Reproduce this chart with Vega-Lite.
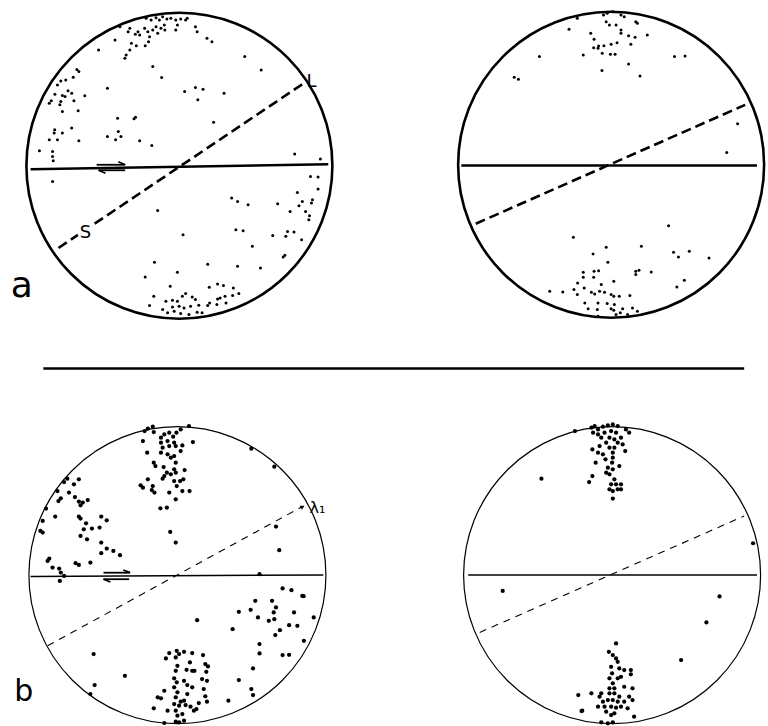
{
"$schema": "https://vega.github.io/schema/vega-lite/v6.json",
"width": 768, "height": 726,
"autosize": {"type": "fit", "contains": "padding"},
"padding": 0,
"background": "white",
"config": {"view": {"stroke": null}},
"datasets": {
"nets": [
{"row": "a", "side": "left", "cx": 182, "cy": 166},
{"row": "a", "side": "right", "cx": 620, "cy": 165},
{"row": "b", "side": "left", "cx": 180, "cy": 576},
{"row": "b", "side": "right", "cx": 621, "cy": 576}
],
"segments": [
{"kind": "solidA", "x1": 31, "y1": 169.5, "x2": 333, "y2": 164.5},
{"kind": "solidA", "x1": 468, "y1": 165.7, "x2": 768, "y2": 165.7},
{"kind": "solidA", "x1": 44, "y1": 369, "x2": 755, "y2": 369},
{"kind": "solidB", "x1": 31, "y1": 577.3, "x2": 328, "y2": 575.8},
{"kind": "solidB", "x1": 475, "y1": 575.7, "x2": 768, "y2": 575.7},
{"kind": "dashA", "x1": 59.3, "y1": 248.3, "x2": 79, "y2": 235.2},
{"kind": "dashA", "x1": 96, "y1": 224, "x2": 308.3, "y2": 83.3},
{"kind": "dashA", "x1": 482.7, "y1": 224, "x2": 756, "y2": 105},
{"kind": "dashB", "x1": 48.3, "y1": 646.7, "x2": 306.7, "y2": 507.3},
{"kind": "dashB", "x1": 486.7, "y1": 633.3, "x2": 755, "y2": 516.7},
{"kind": "harpoon", "x1": 98, "y1": 165, "x2": 127, "y2": 165},
{"kind": "harpoon", "x1": 127, "y1": 165, "x2": 120, "y2": 162},
{"kind": "harpoon", "x1": 100, "y1": 170.5, "x2": 127, "y2": 170.5},
{"kind": "harpoon", "x1": 100, "y1": 170.5, "x2": 107, "y2": 173.5},
{"kind": "harpoon", "x1": 105, "y1": 573.5, "x2": 132, "y2": 573.5},
{"kind": "harpoon", "x1": 132, "y1": 573.5, "x2": 125, "y2": 570.8},
{"kind": "harpoon", "x1": 105, "y1": 580, "x2": 131, "y2": 580},
{"kind": "harpoon", "x1": 105, "y1": 580, "x2": 112, "y2": 582.8}
],
"pointsA": [
{"x":148.3,"y":18.3},{"x":153.3,"y":20},{"x":158.3,"y":17.7},{"x":161.7,"y":20},{"x":165,"y":16.7},{"x":169.3,"y":19},{"x":173.3,"y":18.3},{"x":178.3,"y":20},{"x":183.3,"y":19},{"x":188.3,"y":20},{"x":180,"y":25},{"x":178.3,"y":30},{"x":166.7,"y":25},{"x":167.3,"y":30},{"x":163.3,"y":28.3},{"x":158.3,"y":26.7},{"x":155,"y":30},{"x":150,"y":31.7},{"x":146.7,"y":28.3},{"x":140,"y":31.7},{"x":137.3,"y":34.3},{"x":131.7,"y":28.3},{"x":130,"y":31.7},{"x":121.7,"y":26.7},{"x":160,"y":33.3},{"x":151.7,"y":36.7},{"x":141.7,"y":35},{"x":198.3,"y":26.7},{"x":200,"y":31.7},{"x":210,"y":38.3},{"x":215,"y":41.7},{"x":116.7,"y":40},{"x":133.3,"y":43.3},{"x":138.3,"y":45.7},{"x":147.3,"y":45.7},{"x":150.7,"y":41.7},{"x":131.7,"y":50},{"x":126.7,"y":58.3},{"x":128,"y":55},{"x":100,"y":50},{"x":190,"y":18.3},{"x":248.3,"y":56.7},{"x":265,"y":70},
{"x":155,"y":66.7},{"x":164,"y":77.7},{"x":109,"y":88.3},{"x":187.3,"y":91.7},{"x":198.3,"y":87.7},{"x":206,"y":89.3},{"x":200.7,"y":100},{"x":227.3,"y":93.3},{"x":80,"y":71.7},{"x":78,"y":69.5},{"x":74.3,"y":77.3},{"x":66.7,"y":80},{"x":61.7,"y":81},{"x":58.3,"y":85},{"x":69,"y":91},{"x":72.7,"y":93.3},{"x":63.3,"y":95.7},{"x":66,"y":96.7},{"x":55.7,"y":94.3},{"x":75,"y":101},{"x":86,"y":96},{"x":61.7,"y":101.7},{"x":60.7,"y":105},{"x":63.3,"y":111.7},{"x":50,"y":103.3},{"x":52,"y":101},{"x":79.3,"y":111},{"x":119.3,"y":118.3},{"x":136,"y":119},{"x":137.5,"y":117.5},{"x":216.7,"y":122.3},{"x":72.7,"y":128.3},{"x":63.3,"y":133.3},{"x":55,"y":133.3},{"x":55.5,"y":130},{"x":50,"y":140},{"x":58.3,"y":140},{"x":80,"y":141},{"x":109,"y":136.7},{"x":120,"y":131.7},{"x":117.3,"y":140},{"x":122.7,"y":136.7},{"x":141.7,"y":141},{"x":154,"y":145.7},{"x":40,"y":151},{"x":53.3,"y":151.7},{"x":53.3,"y":156.7},{"x":54,"y":161},{"x":299,"y":154.3},{"x":325,"y":159.3},{"x":53.3,"y":181.7},
{"x":315,"y":176.7},{"x":322.7,"y":177.3},{"x":322.7,"y":189.3},{"x":301.7,"y":192.7},{"x":235,"y":198.3},{"x":241,"y":201.7},{"x":251.7,"y":205},{"x":281.7,"y":204},{"x":306.7,"y":201.7},{"x":303.3,"y":206},{"x":316,"y":203.3},{"x":317,"y":200},{"x":310,"y":211.7},{"x":294.3,"y":211.7},{"x":313.3,"y":220},{"x":314,"y":216},{"x":160,"y":210.7},{"x":185.7,"y":235},{"x":239.3,"y":230},{"x":246.7,"y":231},{"x":276.7,"y":235.7},{"x":291.7,"y":231.7},{"x":298.3,"y":232.3},{"x":290,"y":236.7},{"x":306,"y":240},{"x":256,"y":246.7},{"x":287.3,"y":257.3},{"x":289,"y":255.5},{"x":156.7,"y":262.7},{"x":210.7,"y":264.7},{"x":241,"y":266.7},{"x":264.3,"y":268.3},{"x":147.3,"y":277.3},{"x":180,"y":272.7},{"x":172.7,"y":286.7},{"x":212.3,"y":287.7},{"x":220.7,"y":284.3},{"x":226.7,"y":286},{"x":236.7,"y":288.3},{"x":242.3,"y":294},{"x":236,"y":296},{"x":228.3,"y":296.7},{"x":220.7,"y":299.3},{"x":156,"y":296.7},{"x":151.7,"y":306},{"x":168.3,"y":301.7},{"x":175,"y":300.7},{"x":180,"y":301.7},{"x":185,"y":296.7},{"x":188.3,"y":294},{"x":195,"y":297.3},{"x":198.3,"y":300},{"x":181.7,"y":306.7},{"x":186.7,"y":308.3},{"x":193.3,"y":306.7},{"x":201.7,"y":305.7},{"x":210.7,"y":306},{"x":212.7,"y":303.3},{"x":220,"y":305},{"x":229.3,"y":303.3},{"x":165,"y":310},{"x":170,"y":313.3},{"x":176.7,"y":311.7},{"x":183.3,"y":314},{"x":191.7,"y":315},{"x":200,"y":312.7},{"x":205,"y":313.3},{"x":175,"y":307.3},{"x":223.3,"y":298.3},
{"x":612.3,"y":15},{"x":616,"y":13.3},{"x":621.7,"y":11.7},{"x":630,"y":15},{"x":633.3,"y":16.7},{"x":645,"y":21.7},{"x":646.7,"y":23.3},{"x":585.7,"y":18.3},{"x":615,"y":21.7},{"x":618.3,"y":25},{"x":625,"y":25},{"x":630,"y":30},{"x":630,"y":33.3},{"x":637.7,"y":35.7},{"x":644.3,"y":37.3},{"x":656.7,"y":35},{"x":577.3,"y":29.3},{"x":599.3,"y":33.3},{"x":602.7,"y":39.3},{"x":607.3,"y":46},{"x":606.7,"y":48.3},{"x":612.7,"y":45.7},{"x":620,"y":44.3},{"x":626,"y":42.7},{"x":640,"y":44.3},{"x":602.3,"y":47.7},{"x":611,"y":53.3},{"x":619.3,"y":54.3},{"x":624,"y":54.3},{"x":591.7,"y":55},{"x":547.3,"y":56.7},{"x":684.3,"y":56.7},{"x":695,"y":56},{"x":637.7,"y":64},{"x":610.7,"y":70.7},{"x":649.3,"y":76},{"x":521.7,"y":77.3},{"x":526,"y":79.3},{"x":748.3,"y":124},{"x":737.3,"y":152.7},
{"x":678.3,"y":226},{"x":581.7,"y":237.7},{"x":615,"y":247.7},{"x":650.7,"y":246.7},{"x":601.7,"y":254.3},{"x":616.7,"y":262.7},{"x":683.3,"y":252.7},{"x":688.3,"y":257.3},{"x":699.3,"y":251.7},{"x":719.3,"y":258.3},{"x":591.7,"y":272.7},{"x":602.7,"y":271.7},{"x":607.3,"y":271},{"x":591.7,"y":277.7},{"x":602.3,"y":277.7},{"x":645,"y":271.7},{"x":648.3,"y":270.7},{"x":645,"y":275},{"x":660.7,"y":272.3},{"x":622.7,"y":281.7},{"x":586,"y":283.3},{"x":610,"y":285},{"x":592.7,"y":288.3},{"x":694.3,"y":280.7},{"x":686.7,"y":287.3},{"x":557.7,"y":291.7},{"x":571,"y":292.3},{"x":582.3,"y":290},{"x":585.7,"y":295},{"x":600,"y":292.7},{"x":603.3,"y":294.3},{"x":608.3,"y":291.7},{"x":613.3,"y":292.7},{"x":620,"y":295},{"x":622.7,"y":296.7},{"x":628.3,"y":296.7},{"x":639,"y":296},{"x":593.3,"y":303.3},{"x":606.7,"y":303.3},{"x":616,"y":304},{"x":623.3,"y":305},{"x":596.7,"y":309.3},{"x":606,"y":310},{"x":620,"y":309.3},{"x":622.7,"y":310.7},{"x":631.7,"y":309.3},{"x":641.7,"y":308.3},{"x":646.7,"y":311.7},{"x":629.3,"y":313.3},{"x":606.7,"y":316.7},{"x":625,"y":315},{"x":636.7,"y":315}
],
"pointsB": [
{"x":146.7,"y":431.7},{"x":150,"y":429.3},{"x":155,"y":427.3},{"x":145,"y":441.7},{"x":156,"y":432.7},{"x":163.3,"y":438.3},{"x":166.7,"y":435},{"x":171.7,"y":433.3},{"x":175.7,"y":437.3},{"x":179,"y":433.3},{"x":183.3,"y":430},{"x":191.7,"y":426.7},{"x":163.3,"y":443.3},{"x":170,"y":441.7},{"x":176.7,"y":443.3},{"x":165,"y":448.3},{"x":171.7,"y":446.7},{"x":178.3,"y":446.7},{"x":185,"y":446},{"x":195.7,"y":442.7},{"x":149.3,"y":453.3},{"x":163.3,"y":453.3},{"x":170,"y":455},{"x":176.7,"y":456.7},{"x":173.3,"y":458.3},{"x":183.3,"y":451.7},{"x":156,"y":463.3},{"x":157.7,"y":466.7},{"x":166,"y":467.7},{"x":178.3,"y":463.3},{"x":176.7,"y":470},{"x":169.3,"y":473.3},{"x":166.7,"y":476.7},{"x":173.3,"y":475},{"x":178.3,"y":473.3},{"x":187.3,"y":470.7},{"x":165,"y":479.3},{"x":176.7,"y":481.7},{"x":182.7,"y":481.7},{"x":186,"y":480},{"x":150,"y":480},{"x":142.7,"y":486},{"x":145,"y":488.3},{"x":155,"y":486.7},{"x":154,"y":490.7},{"x":156.7,"y":493.3},{"x":179.3,"y":486.7},{"x":171.7,"y":493.3},{"x":185,"y":491.7},{"x":192.3,"y":491.7},{"x":178.3,"y":500},{"x":162.7,"y":509},{"x":169.3,"y":508.3},{"x":172.7,"y":532.7},{"x":178.3,"y":543.3},
{"x":68.3,"y":479.3},{"x":65,"y":482.7},{"x":80,"y":480},{"x":75,"y":485},{"x":58.3,"y":491.7},{"x":70,"y":493.3},{"x":76,"y":497.7},{"x":61.7,"y":499},{"x":59.3,"y":501.7},{"x":80,"y":502.3},{"x":84,"y":503.3},{"x":89,"y":500.7},{"x":81.7,"y":506},{"x":46.7,"y":509.3},{"x":56,"y":517.3},{"x":80,"y":517.3},{"x":81.7,"y":519.3},{"x":102.7,"y":517.3},{"x":108.3,"y":521},{"x":43.3,"y":521.7},{"x":87.3,"y":524},{"x":85,"y":530},{"x":93.3,"y":529.3},{"x":101,"y":528.3},{"x":41,"y":531.7},{"x":43.3,"y":533.3},{"x":81.7,"y":536.7},{"x":88.3,"y":540},{"x":102.7,"y":543.3},{"x":108.3,"y":549.3},{"x":102.7,"y":554},{"x":115,"y":551.7},{"x":121.7,"y":556},{"x":50,"y":559.3},{"x":48.3,"y":561.7},{"x":76.7,"y":564},{"x":80,"y":565.7},{"x":91.7,"y":563.3},{"x":53.3,"y":568.3},{"x":60,"y":569.3},{"x":61.7,"y":573.3},{"x":65,"y":576.7},{"x":60.7,"y":581.7},
{"x":255,"y":449.3},{"x":278.3,"y":467.3},{"x":280,"y":527.3},{"x":283.3,"y":551},{"x":263.3,"y":575},
{"x":286.7,"y":589.3},{"x":295.7,"y":591},{"x":306.7,"y":596.7},{"x":308,"y":597},{"x":259,"y":601.7},{"x":276,"y":601.7},{"x":242.3,"y":612.7},{"x":254.3,"y":610.7},{"x":277.7,"y":613.3},{"x":280,"y":608.3},{"x":298.3,"y":613.3},{"x":261.7,"y":618.3},{"x":272.7,"y":621.7},{"x":278.3,"y":620},{"x":318.3,"y":618.3},{"x":293.3,"y":626},{"x":301.7,"y":626.7},{"x":284,"y":631},{"x":279.3,"y":636},{"x":236,"y":630},{"x":200,"y":621},{"x":308.3,"y":641.7},{"x":263.3,"y":645},{"x":263.3,"y":654.3},{"x":286.7,"y":656},{"x":293.3,"y":655.7},{"x":256.7,"y":669.3},{"x":242.3,"y":681},{"x":255,"y":690},{"x":256.7,"y":696},{"x":231.7,"y":701.7},
{"x":171.7,"y":654},{"x":168.3,"y":659.3},{"x":179.3,"y":651.7},{"x":181.7,"y":655},{"x":178.3,"y":658.3},{"x":186.7,"y":652.7},{"x":195,"y":654},{"x":206,"y":656},{"x":192.7,"y":663.3},{"x":208.3,"y":665},{"x":211,"y":667.3},{"x":180,"y":666.7},{"x":178.3,"y":671.7},{"x":189.3,"y":670.7},{"x":195,"y":671.7},{"x":197.3,"y":671.7},{"x":209.3,"y":672.7},{"x":205,"y":680},{"x":210,"y":681.7},{"x":176.7,"y":679.3},{"x":179.3,"y":683.3},{"x":186.7,"y":681.7},{"x":190,"y":686},{"x":195,"y":688.3},{"x":176.7,"y":688.3},{"x":166.7,"y":691.7},{"x":180,"y":693.3},{"x":190,"y":695},{"x":206.7,"y":690},{"x":208.3,"y":697.3},{"x":160,"y":698.3},{"x":163.3,"y":699.3},{"x":178.3,"y":698.3},{"x":183.3,"y":702.7},{"x":186.7,"y":701.7},{"x":181.7,"y":706.7},{"x":176.7,"y":705},{"x":188.3,"y":706},{"x":201.7,"y":704},{"x":210,"y":702.7},{"x":156,"y":709.3},{"x":170,"y":711.7},{"x":178.3,"y":711.7},{"x":193.3,"y":707.7},{"x":196.7,"y":711.7},{"x":199.3,"y":710},{"x":180,"y":716.7},{"x":185,"y":715},{"x":166.7,"y":724},{"x":178.3,"y":722.7},{"x":181.7,"y":723.3},{"x":186.7,"y":721.7},
{"x":95,"y":655},{"x":126.7,"y":676.7},{"x":96,"y":686},{"x":91.7,"y":695},
{"x":583.3,"y":431.7},{"x":600,"y":428.3},{"x":603.3,"y":426.7},{"x":606.7,"y":430},{"x":611.7,"y":427.3},{"x":616.7,"y":426},{"x":621.7,"y":425},{"x":626.7,"y":426.7},{"x":601.7,"y":433.3},{"x":606.7,"y":435},{"x":613.3,"y":433.3},{"x":620,"y":431.7},{"x":625,"y":433.3},{"x":635,"y":430},{"x":638.3,"y":433.3},{"x":610,"y":438.3},{"x":618.3,"y":438.3},{"x":623.3,"y":440},{"x":630,"y":438.3},{"x":615,"y":443.3},{"x":626.7,"y":443.3},{"x":631.7,"y":445},{"x":608.3,"y":446.7},{"x":601,"y":450},{"x":618.3,"y":448.3},{"x":623.3,"y":448.3},{"x":634.3,"y":451.7},{"x":606.7,"y":453.3},{"x":611.7,"y":455},{"x":621.7,"y":453.3},{"x":614.3,"y":460},{"x":621.7,"y":458.3},{"x":604.3,"y":463.3},{"x":621,"y":463.3},{"x":628.3,"y":466.7},{"x":616.7,"y":468.3},{"x":615,"y":473.3},{"x":621.7,"y":470},{"x":618.3,"y":475},{"x":601,"y":476.7},{"x":597.7,"y":482.7},{"x":623.3,"y":480},{"x":620,"y":485},{"x":625,"y":485},{"x":630,"y":485},{"x":618.3,"y":490},{"x":621.7,"y":491.7},{"x":626.7,"y":490},{"x":630,"y":490},{"x":621.7,"y":499.3},
{"x":549.3,"y":479.3},{"x":764,"y":544},{"x":510,"y":591.7},{"x":730,"y":597.3},{"x":716.7,"y":623.3},{"x":691,"y":661},
{"x":625,"y":644.3},{"x":617.7,"y":652.7},{"x":621.7,"y":656},{"x":625,"y":659.3},{"x":626.7,"y":662.7},{"x":620,"y":667.7},{"x":628.3,"y":669.3},{"x":633.3,"y":671},{"x":640,"y":671},{"x":621,"y":674.3},{"x":640,"y":675.3},{"x":618.3,"y":679.3},{"x":626.7,"y":679.3},{"x":630,"y":677.7},{"x":621.7,"y":684.3},{"x":618.3,"y":689.3},{"x":623.3,"y":689.3},{"x":633.3,"y":687.7},{"x":641.7,"y":689.3},{"x":586.7,"y":696},{"x":600,"y":694.3},{"x":610,"y":694.3},{"x":608.3,"y":697.7},{"x":618.3,"y":694.3},{"x":623.3,"y":694.3},{"x":628.3,"y":697.7},{"x":638.3,"y":697.7},{"x":611.7,"y":702.7},{"x":616.7,"y":701},{"x":621.7,"y":701},{"x":626.7,"y":702.7},{"x":633.3,"y":702.7},{"x":641.7,"y":701},{"x":606.7,"y":707.7},{"x":613.3,"y":707.7},{"x":620,"y":707.7},{"x":625,"y":708.7},{"x":630,"y":707.7},{"x":636.7,"y":709.3},{"x":623.3,"y":714.3},{"x":590,"y":712},{"x":643.3,"y":717.7},{"x":610,"y":723.3},{"x":616.7,"y":724.3},{"x":621.7,"y":723.3},{"x":620,"y":716},{"x":615,"y":712.7},{"x":590.7,"y":711.7}
],
"labels": [
{"kind": "panelA", "text": "a", "x": 22, "y": 297},
{"kind": "panelB", "text": "b", "x": 24, "y": 701.5},
{"kind": "dir", "text": "L", "x": 316, "y": 87.5},
{"kind": "dir", "text": "S", "x": 86.7, "y": 238.5},
{"kind": "lam", "text": "λ₁", "x": 322, "y": 514}
],
"tips": [
{"x": 307, "y": 507.5}
]
},
"layer": [
{
"data": {"name": "nets"},
"transform": [{"filter": "datum.row === 'a'"}],
"mark": {"type": "point", "shape": "circle", "filled": false, "stroke": "black", "strokeWidth": 2.6, "size": 93636, "opacity": 1},
"encoding": {
"x": {"field": "cx", "type": "quantitative", "scale": {"domain": [0, 768], "nice": false, "zero": false}, "axis": null},
"y": {"field": "cy", "type": "quantitative", "scale": {"domain": [0, 726], "reverse": true, "nice": false, "zero": false}, "axis": null}
}
},
{
"data": {"name": "nets"},
"transform": [{"filter": "datum.row === 'b'"}],
"mark": {"type": "point", "shape": "circle", "filled": false, "stroke": "black", "strokeWidth": 1.2, "size": 88209, "opacity": 1},
"encoding": {
"x": {"field": "cx", "type": "quantitative", "axis": null},
"y": {"field": "cy", "type": "quantitative", "axis": null}
}
},
{
"data": {"name": "segments"},
"transform": [{"filter": "datum.kind === 'solidA'"}],
"mark": {"type": "rule", "stroke": "black", "strokeWidth": 2.4},
"encoding": {
"x": {"field": "x1", "type": "quantitative", "axis": null},
"y": {"field": "y1", "type": "quantitative", "axis": null},
"x2": {"field": "x2"},
"y2": {"field": "y2"}
}
},
{
"data": {"name": "segments"},
"transform": [{"filter": "datum.kind === 'solidB'"}],
"mark": {"type": "rule", "stroke": "black", "strokeWidth": 1.5},
"encoding": {
"x": {"field": "x1", "type": "quantitative", "axis": null},
"y": {"field": "y1", "type": "quantitative", "axis": null},
"x2": {"field": "x2"},
"y2": {"field": "y2"}
}
},
{
"data": {"name": "segments"},
"transform": [{"filter": "datum.kind === 'dashA'"}],
"mark": {"type": "rule", "stroke": "black", "strokeWidth": 2.6, "strokeDash": [10, 5]},
"encoding": {
"x": {"field": "x1", "type": "quantitative", "axis": null},
"y": {"field": "y1", "type": "quantitative", "axis": null},
"x2": {"field": "x2"},
"y2": {"field": "y2"}
}
},
{
"data": {"name": "segments"},
"transform": [{"filter": "datum.kind === 'dashB'"}],
"mark": {"type": "rule", "stroke": "black", "strokeWidth": 1.1, "strokeDash": [7, 6]},
"encoding": {
"x": {"field": "x1", "type": "quantitative", "axis": null},
"y": {"field": "y1", "type": "quantitative", "axis": null},
"x2": {"field": "x2"},
"y2": {"field": "y2"}
}
},
{
"data": {"name": "segments"},
"transform": [{"filter": "datum.kind === 'harpoon'"}],
"mark": {"type": "rule", "stroke": "black", "strokeWidth": 1.8},
"encoding": {
"x": {"field": "x1", "type": "quantitative", "axis": null},
"y": {"field": "y1", "type": "quantitative", "axis": null},
"x2": {"field": "x2"},
"y2": {"field": "y2"}
}
},
{
"data": {"name": "pointsA"},
"mark": {"type": "circle", "color": "black", "size": 9, "opacity": 1},
"encoding": {
"x": {"field": "x", "type": "quantitative", "axis": null},
"y": {"field": "y", "type": "quantitative", "axis": null}
}
},
{
"data": {"name": "pointsB"},
"mark": {"type": "circle", "color": "black", "size": 18, "opacity": 1},
"encoding": {
"x": {"field": "x", "type": "quantitative", "axis": null},
"y": {"field": "y", "type": "quantitative", "axis": null}
}
},
{
"data": {"name": "tips"},
"mark": {"type": "point", "shape": "triangle-right", "filled": true, "color": "black", "size": 22, "angle": -30, "opacity": 1},
"encoding": {
"x": {"field": "x", "type": "quantitative", "axis": null},
"y": {"field": "y", "type": "quantitative", "axis": null}
}
},
{
"data": {"name": "labels"},
"transform": [{"filter": "datum.kind === 'panelA'"}],
"mark": {"type": "text", "font": "DejaVu Sans", "fontSize": 36, "align": "center", "baseline": "alphabetic", "color": "black"},
"encoding": {
"x": {"field": "x", "type": "quantitative", "axis": null},
"y": {"field": "y", "type": "quantitative", "axis": null},
"text": {"field": "text"}
}
},
{
"data": {"name": "labels"},
"transform": [{"filter": "datum.kind === 'panelB'"}],
"mark": {"type": "text", "font": "DejaVu Sans", "fontSize": 30, "align": "center", "baseline": "alphabetic", "color": "black"},
"encoding": {
"x": {"field": "x", "type": "quantitative", "axis": null},
"y": {"field": "y", "type": "quantitative", "axis": null},
"text": {"field": "text"}
}
},
{
"data": {"name": "labels"},
"transform": [{"filter": "datum.kind === 'dir'"}],
"mark": {"type": "text", "font": "DejaVu Sans", "fontSize": 18, "align": "center", "baseline": "alphabetic", "color": "black"},
"encoding": {
"x": {"field": "x", "type": "quantitative", "axis": null},
"y": {"field": "y", "type": "quantitative", "axis": null},
"text": {"field": "text"}
}
},
{
"data": {"name": "labels"},
"transform": [{"filter": "datum.kind === 'lam'"}],
"mark": {"type": "text", "font": "DejaVu Sans", "fontSize": 16, "align": "center", "baseline": "alphabetic", "color": "black"},
"encoding": {
"x": {"field": "x", "type": "quantitative", "axis": null},
"y": {"field": "y", "type": "quantitative", "axis": null},
"text": {"field": "text"}
}
}
]
}
